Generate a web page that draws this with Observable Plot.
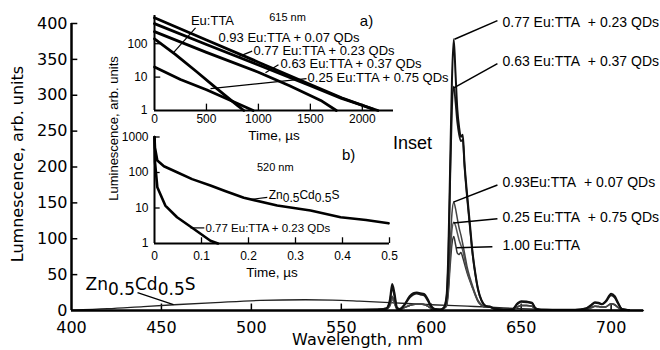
<!DOCTYPE html>
<html><head><meta charset="utf-8">
<script src="https://cdn.jsdelivr.net/npm/d3@7"></script>
<script src="https://cdn.jsdelivr.net/npm/@observablehq/plot@0.6"></script>
<style>
html,body{margin:0;padding:0;background:#fff;}
#chart{position:relative;width:660px;height:350px;overflow:hidden;background:#fff;}
#chart svg{position:absolute;left:0;top:0;}
</style></head><body><div id="chart"></div>
<script>
// ---------- main spectra ----------
const wavelength = [550,570,575,577,578.3,579.5,581,582.5,585,588,590,592,594,596,598,600,602,605,607,608.5,609.5,610.5,611.5,612.5,613.5,614.5,615.5,616.5,617.5,618.5,620,621.5,623,624.5,626,628,630,632.5,635,640,645,648,650,653,656,658,661,670,680,686,689,691,693,695,697,700,702,704,706,710];
const eu077 = [1,1.5,3,15,37,25,4,2,8,20,24,25,24,23,16,6,2,1.5,4,20,80,200,320,378,330,280,255,242,245,205,160,120,80,52,30,14,7,5,3,1.5,1.5,10,13,12.5,11,3,1,1,1,3,8,11.5,11,9,13,23.5,20,10,2,0.5];
const eu063 = [1,1.5,3,12,32,20,3,2,7,18,22,23.5,22,21,14,5,2,1.5,4,18,70,180,280,312,290,262,245,236,238,200,155,116,78,50,29,13,6.5,5,3,1.5,1.5,9,12,11.5,10,3,1,1,1,3,7,10.5,10,8.5,12,21,18,9,2,0.5];
const eu093 = [0.5,1,2,8,20,13,2,1.5,4,7,8.5,9,9,8.5,6,3,1.5,1,3,8,35,90,135,151,142,128,115,105,93,80,60,46,34,23,14,8,5,6,2.5,1,1,5,7,7,6,2,0.8,0.5,0.5,1.5,4,6,5.5,5,5,9.5,8,4,1,0.3];
const eu025 = [0.5,1,2,6,16,10,2,1.5,4,7,8.5,9,9,8.5,6,3,1.5,1,3,7,30,75,112,123,118,108,98,91,84,72,55,43,32,22,13,7.5,4.5,5.5,2,1,1,5,7,7,6,2,0.8,0.5,0.5,1.5,4,6,5.5,5,5,9.5,8,4,1,0.3];
const eu100 = [0.5,1,2,7,18,11,2,1.5,4,7,8.5,9,9,8.5,6,3,1.5,1,3,6,25,62,92,103,92,80,78,81,74,65,52,41,31,21,12.5,7,4.5,5.5,2,1,1,5,7,7,6,2,0.8,0.5,0.5,1.5,4,6,5.5,5,5,9.5,8,4,1,0.3];
const znWavelength = [400,420,440,457,480,505,530,545,560,577,600,620,633,650,670,690,718];
const znIntensity = [0.5,2.5,5.5,8,11,14,15,14.5,13,11,8,6,4.6,2.5,1,0.3,0];
const xTicks = [400,450,500,550,600,650,700];
const yTicks = [0,50,100,150,200,250,300,350,400];

// main annotations
const peakLabels = ["0.77 Eu:TTA\u00a0 + 0.23 QDs","0.63 Eu:TTA\u00a0 + 0.37 QDs","0.93Eu:TTA\u00a0 + 0.07 QDs","0.25 Eu:TTA\u00a0 + 0.75 QDs","1.00 Eu:TTA"];
const peakLabelX = [639.6,639.6,639.6,639.6,639.6];
const peakLabelY = [401,347,178,129,90];
const leaderStartX = [636.8,636.8,636.8,636.8,634];
const leaderStartY = [404,344,175,128,89];
const peakPointX = [612.9,612.3,612.3,612.3,614];
const peakPointY = [378,310,151,122,87.5];
const znLabel = "Zn0.5Cd0.5S";
const znParts = [["Zn",0],["0.5",1],["Cd",0],["0.5",1],["S",0]];

// ---------- inset a (615 nm decays, µs) ----------
const decayTime093 = [0,500,1000,1500,1800,2100];
const decay093 = [600,130,28,6,2.4,1.1];
const decayTime077 = [0,500,1000,1500,1800,2150];
const decay077 = [400,95,23,5.5,2.3,1.0];
const decayTime063 = [0,500,1000,1300,1600,1750];
const decay063 = [230,55,14,5.5,2,1];
const decayTimeEu = [0,200,400,600,800,860];
const decayEu = [140,48,15,4.5,1.4,1];
const decayTime025 = [0,250,500,750,950];
const decay025 = [20,8.5,4.2,1.9,1];
const aXTicks = [0,500,1000,1500,2000];
const aYTicks = [1,10,100];
const aLabels = ["0.93 Eu:TTA + 0.07 QDs","0.77 Eu:TTA + 0.23 QDs","0.63 Eu:TTA + 0.37 QDs","0.25 Eu:TTA + 0.75 QDs"];
const aLabelX = [616,953,1213,1473];
const aLabelY = [151,62,25,9.6];
const aLeadX1 = [null,940,1193,1463];
const aLeadY1 = [null,60,23.6,9.0];
const aLeadX2 = [null,808,1068,539];
const aLeadY2 = [null,41,13.6,4.5];

// ---------- inset b (520 nm decays, µs) ----------
const decayTimeZn = [0,0.001,0.006,0.02,0.048,0.08,0.119,0.15,0.19,0.261,0.332,0.396,0.45,0.498];
const decayZn = [1000,500,218,150,102,65,43,30,19.4,11.7,8.5,5.5,4.6,3.7];
const decayTimeMix = [0,0.001,0.006,0.023,0.048,0.083,0.119,0.135];
const decayMix = [1000,200,38.5,11.7,5.5,2.6,1.2,1];
const bXTicks = [0,0.1,0.2,0.3,0.4,0.5];
const bYTicks = [1,10,100,1000];

// ---------- helpers ----------
const toRows = (xs, ys, extra = {}) => xs.map((x, i) => ({x, y: ys[i], ...extra}));
const idx = n => d3.range(n);
const SANS = "Liberation Sans, Arial, sans-serif";
const DEJA = "DejaVu Sans, sans-serif";
const overlayStyle = {background: "transparent", overflow: "visible", position: "absolute", left: "0px", top: "0px", color: "#000"};

function applySubscripts(svg, shift) {
  d3.select(svg).selectAll("text").each(function() {
    if (this.textContent !== znLabel) return;
    const t = d3.select(this);
    t.text(null);
    let cur = 0;
    znParts.forEach(([s, sub]) => {
      const target = sub ? shift : 0;
      t.append("tspan").attr("dy", target - cur).text(s);
      cur = target;
    });
  });
}

const series = [
  {name: "0.77", v: eu077, c: "#111", w: 2},
  {name: "0.63", v: eu063, c: "#1a1a1a", w: 1.8},
  {name: "0.93", v: eu093, c: "#444", w: 1.5},
  {name: "0.25", v: eu025, c: "#555", w: 1.5},
  {name: "1.00", v: eu100, c: "#333", w: 1.5}
];

// ---------- main chart ----------
const main = Plot.plot({
  width: 660, height: 350,
  marginLeft: 71, marginRight: 17, marginTop: 23, marginBottom: 40,
  x: {domain: [400, 718]},
  y: {domain: [0, 400]},
  style: {...overlayStyle, fontFamily: DEJA, fontSize: "16px"},
  marks: [
    Plot.axisX({ticks: xTicks, tickSize: 0, tickPadding: 11, label: null, tickFormat: d => String(d)}),
    Plot.axisY({ticks: yTicks, tickSize: 0, tickPadding: 4, label: null, tickFormat: d => String(d)}),
    Plot.ruleY(yTicks.slice(1), {y: d => d, x1: 400, x2: 403.5, strokeWidth: 1.5, stroke: "#000"}),
    Plot.ruleX(xTicks.slice(1), {x: d => d, y1: 0, y2: 9, strokeWidth: 1.5, stroke: "#000"}),
    Plot.line(toRows(znWavelength, znIntensity), {x: "x", y: "y", stroke: "#222", strokeWidth: 1.3, curve: "monotone-x"}),
    ...series.slice().reverse().map(s => Plot.line(toRows(wavelength, s.v), {x: "x", y: "y", stroke: s.c, strokeWidth: s.w, curve: "monotone-x"})),
    Plot.ruleX([400], {y1: 0, y2: 400, strokeWidth: 2.5, stroke: "#000"}),
    Plot.ruleY([0], {x1: 400, x2: 718, strokeWidth: 2.5, stroke: "#000"}),
    Plot.link(idx(5), {x1: i => leaderStartX[i], y1: i => leaderStartY[i], x2: i => peakPointX[i], y2: i => peakPointY[i], stroke: "#000", strokeWidth: 1.5}),
    Plot.text(idx(5), {x: i => peakLabelX[i], y: i => peakLabelY[i], text: i => peakLabels[i], textAnchor: "start", lineAnchor: "middle", fontFamily: SANS, fontSize: 14, fill: "#000"}),
    Plot.link([0], {x1: 436.7, y1: 25, x2: 456.7, y2: 8.3, stroke: "#000", strokeWidth: 1.3}),
    Plot.text([znLabel], {x: 407.8, y: 29, text: d => d, textAnchor: "start", lineAnchor: "bottom", fontFamily: DEJA, fontSize: 17, fill: "#000"}),
    Plot.text(["Inset"], {x: 589.6, y: 233, text: d => d, textAnchor: "middle", lineAnchor: "middle", fontFamily: SANS, fontSize: 18, fill: "#000"}),
    Plot.text(["Wavelength, nm"], {text: d => d, frameAnchor: "bottom", textAnchor: "middle", dy: 34, lineAnchor: "bottom", fontFamily: DEJA, fontSize: 16, fill: "#000"}),
    Plot.text(["Lumnescence, arb. units"], {text: d => d, frameAnchor: "left", textAnchor: "middle", lineAnchor: "middle", dx: -54, dy: -3, rotate: -90, fontFamily: DEJA, fontSize: 16, fill: "#000"})
  ]
});
applySubscripts(main, 5);

// ---------- inset a ----------
const decaysA = [
  [decayTime093, decay093], [decayTime077, decay077], [decayTime063, decay063], [decayTimeEu, decayEu], [decayTime025, decay025]
];
const leadA = idx(4).filter(i => aLeadX1[i] != null);
const insetA = Plot.plot({
  width: 660, height: 140,
  marginLeft: 154, marginRight: 267, marginTop: 15, marginBottom: 30,
  x: {domain: [0, 2300]},
  y: {type: "log", domain: [1, 700]},
  style: {...overlayStyle, fontFamily: SANS, fontSize: "12px"},
  marks: [
    Plot.axisX({ticks: aXTicks, tickSize: 0, tickPadding: 4, label: null, tickFormat: d => String(d)}),
    Plot.axisY({ticks: aYTicks, tickSize: 0, tickPadding: 7, label: null, tickFormat: d => String(d)}),
    Plot.ruleX(aXTicks.slice(1), {x: d => d, y1: 1, y2: 1.55, strokeWidth: 1.3, stroke: "#000"}),
    Plot.ruleY(aYTicks.slice(1), {y: d => d, x1: 0, x2: 60, strokeWidth: 1.3, stroke: "#000"}),
    ...decaysA.map(([t, v]) => Plot.line(toRows(t, v), {x: "x", y: "y", stroke: "#000", strokeWidth: 2.8})),
    Plot.ruleX([0], {y1: 1, y2: 700, strokeWidth: 2, stroke: "#000"}),
    Plot.ruleY([1], {x1: 0, x2: 2300, strokeWidth: 2, stroke: "#000"}),
    Plot.link([0], {x1: 395, y1: 300, x2: 183, y2: 53.8, stroke: "#000", strokeWidth: 1.2}),
    Plot.link(leadA, {x1: i => aLeadX1[i], y1: i => aLeadY1[i], x2: i => aLeadX2[i], y2: i => aLeadY2[i], stroke: "#000", strokeWidth: 1.2}),
    Plot.text(["Eu:TTA"], {x: 558, y: 488, text: d => d, textAnchor: "middle", lineAnchor: "middle", fontSize: 13, fill: "#000"}),
    Plot.text(idx(4), {x: i => aLabelX[i], y: i => aLabelY[i], text: i => aLabels[i], textAnchor: "start", lineAnchor: "middle", fontSize: 13, fill: "#000"}),
    Plot.text(["615 nm"], {x: 1280, y: 595, text: d => d, textAnchor: "middle", fontSize: 11, fill: "#000"}),
    Plot.text(["a)"], {x: 2040, y: 488, text: d => d, textAnchor: "middle", fontSize: 15, fill: "#000"}),
    Plot.text(["Time, \u00b5s"], {text: d => d, frameAnchor: "bottom", textAnchor: "middle", dy: 25, lineAnchor: "middle", fontSize: 13.5, fill: "#000"}),
    Plot.text(["Luminescence, arb. units"], {text: d => d, frameAnchor: "left", textAnchor: "middle", lineAnchor: "middle", dx: -41, dy: 65.5, rotate: -90, fontSize: 13, fill: "#000"})
  ]
});

// ---------- inset b ----------
const insetB = Plot.plot({
  width: 660, height: 290,
  marginLeft: 154, marginRight: 271, marginTop: 136.5, marginBottom: 47,
  x: {domain: [0, 0.5]},
  y: {type: "log", domain: [1, 1000]},
  style: {...overlayStyle, fontFamily: SANS, fontSize: "12px"},
  marks: [
    Plot.axisX({ticks: bXTicks, tickSize: 0, tickPadding: 7.5, label: null, tickFormat: d => String(d)}),
    Plot.axisY({ticks: bYTicks, tickSize: 0, tickPadding: 6, label: null, tickFormat: d => String(d)}),
    Plot.ruleX(bXTicks.slice(1), {x: d => d, y1: 1, y2: 1.45, strokeWidth: 1.3, stroke: "#000"}),
    Plot.ruleY(bYTicks.slice(1), {y: d => d, x1: 0, x2: 0.012, strokeWidth: 1.3, stroke: "#000"}),
    Plot.line(toRows(decayTimeZn, decayZn), {x: "x", y: "y", stroke: "#000", strokeWidth: 2.6}),
    Plot.line(toRows(decayTimeMix, decayMix), {x: "x", y: "y", stroke: "#000", strokeWidth: 2.6}),
    Plot.ruleX([0], {y1: 1, y2: 1000, strokeWidth: 2, stroke: "#000"}),
    Plot.ruleY([1], {x1: 0, x2: 0.5, strokeWidth: 2, stroke: "#000"}),
    Plot.link([0], {x1: 0.240, y1: 19.8, x2: 0.205, y2: 17.5, stroke: "#000", strokeWidth: 1.2}),
    Plot.link([0], {x1: 0.0766, y1: 2.75, x2: 0.106, y2: 2.75, stroke: "#000", strokeWidth: 1.2}),
    Plot.text([znLabel], {x: 0.243, y: 22.5, text: d => d, textAnchor: "start", lineAnchor: "middle", fontSize: 12, fill: "#000"}),
    Plot.text(["0.77 Eu:TTA + 0.23 QDs"], {x: 0.1085, y: 2.7, text: d => d, textAnchor: "start", lineAnchor: "middle", fontSize: 11.5, fill: "#000"}),
    Plot.text(["520 nm"], {x: 0.257, y: 138, text: d => d, textAnchor: "middle", fontSize: 11, fill: "#000"}),
    Plot.text(["b)"], {x: 0.413, y: 301, text: d => d, textAnchor: "middle", fontSize: 15, fill: "#000"}),
    Plot.text(["Time, \u00b5s"], {text: d => d, frameAnchor: "bottom", textAnchor: "middle", dy: 29, lineAnchor: "middle", fontSize: 13.5, fill: "#000"})
  ]
});
applySubscripts(insetB, 3);

const host = document.getElementById("chart");
host.appendChild(main);
host.appendChild(insetA);
host.appendChild(insetB);
</script></body></html>
